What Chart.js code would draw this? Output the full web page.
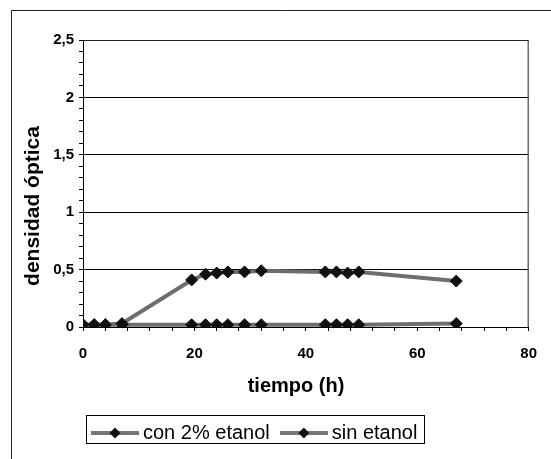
<!DOCTYPE html>
<html>
<head>
<meta charset="utf-8">
<script src="https://cdn.jsdelivr.net/npm/chart.js@4/dist/chart.umd.min.js"></script>
<style>body{margin:0;background:#fff}</style>
</head>
<body>
<canvas id="myChart" width="551" height="459"></canvas>
<script>
// datos
var tiempo = [0, 2, 4, 7, 19.5, 22, 24, 26, 29, 32, 43.5, 45.5, 47.5, 49.5, 67];
var con2Etanol = [0.02, 0.02, 0.02, 0.03, 0.41, 0.46, 0.47, 0.48, 0.48, 0.49, 0.48, 0.48, 0.47, 0.48, 0.40];
var sinEtanol = [0.02, 0.02, 0.02, 0.02, 0.02, 0.02, 0.02, 0.02, 0.02, 0.02, 0.02, 0.02, 0.02, 0.02, 0.03];
var seriesNames = ['con 2% etanol', 'sin etanol'];
var yTickValues = [0, 0.5, 1, 1.5, 2, 2.5];
var yTickLabels = ['0', '0,5', '1', '1,5', '2', '2,5'];
var xTickValues = [0, 20, 40, 60, 80];
var xTickLabels = ['0', '20', '40', '60', '80'];

function pts(ys) {
    return tiempo.map(function (t, i) { return {x: t, y: ys[i]}; });
}
function findLabel(v, vals, labels) {
    for (var i = 0; i < vals.length; i++) {
        if (Math.abs(v - vals[i]) < 1e-6) return labels[i];
    }
    return '';
}

// simbolo de la leyenda: linea gris con rombo
var sym = document.createElement('canvas');
sym.width = 48; sym.height = 12;
var sc = sym.getContext('2d');
sc.strokeStyle = '#777'; sc.lineWidth = 4;
sc.beginPath(); sc.moveTo(0, 6); sc.lineTo(48, 6); sc.stroke();
sc.fillStyle = '#111';
sc.beginPath(); sc.moveTo(24, 0.5); sc.lineTo(29.5, 6); sc.lineTo(24, 11.5); sc.lineTo(18.5, 6); sc.closePath(); sc.fill();

var extras = {
    id: 'extras',
    afterLayout: function (chart) {
        var lg = chart.legend;
        lg.left = 81; lg.right = 540;
        lg.top = 407; lg.bottom = lg.top + lg.height;
    },
    afterDraw: function (chart) {
        var c = chart.ctx, a = chart.chartArea;
        c.save();
        c.strokeStyle = '#222'; c.lineWidth = 1;
        // marco exterior
        c.beginPath(); c.moveTo(11.5, 459); c.lineTo(11.5, 10.5); c.lineTo(551, 10.5); c.stroke();
        // borde del area de trazado
        c.beginPath(); c.moveTo(a.left, a.top + 0.5); c.lineTo(a.right - 0.5, a.top + 0.5); c.lineTo(a.right - 0.5, a.bottom); c.stroke();
        // recuadro de la leyenda
        var hb = chart.legend.legendHitBoxes;
        if (hb && hb.length) {
            var l = hb[0].left, r = hb[hb.length - 1].left + hb[hb.length - 1].width;
            c.strokeStyle = '#000';
            c.strokeRect(Math.round(l - 11) + 0.5, 415.5, Math.round(r - l + 18), 28);
        }
        // titulos de ejes
        c.fillStyle = '#000';
        c.font = 'bold 20px "Liberation Sans", Arial, sans-serif';
        c.textAlign = 'center'; c.textBaseline = 'middle';
        c.fillText('tiempo (h)', 296, 386);
        c.translate(33, 206);
        c.rotate(-Math.PI / 2);
        c.font = 'bold 21px "Liberation Sans", Arial, sans-serif';
        c.fillText('densidad óptica', 0, 0);
        c.restore();
    }
};

var ctx = document.getElementById('myChart').getContext('2d');

var myChart = new Chart(ctx, {
    type: 'line',
    data: {
        datasets: [{
            label: seriesNames[0],
            data: pts(con2Etanol),
            borderColor: '#6e6e6e',
            borderWidth: 4,
            pointStyle: 'rectRot',
            pointRadius: 6,
            pointBackgroundColor: '#111',
            pointBorderColor: '#111',
            pointBorderWidth: 1
        }, {
            label: seriesNames[1],
            data: pts(sinEtanol),
            borderColor: '#6e6e6e',
            borderWidth: 4,
            pointStyle: 'rectRot',
            pointRadius: 6,
            pointBackgroundColor: '#111',
            pointBorderColor: '#111',
            pointBorderWidth: 1
        }]
    },
    options: {
        responsive: false,
        animation: false,
        devicePixelRatio: 1,
        layout: {padding: {left: 0, top: 40, right: 19, bottom: 0}},
        plugins: {
            title: {display: false},
            tooltip: {enabled: false},
            legend: {
                position: 'bottom',
                align: 'start',
                labels: {
                    usePointStyle: true,
                    pointStyleWidth: 36,
                    padding: 16,
                    color: '#000',
                    font: {family: '"Liberation Sans", Arial, sans-serif', size: 20},
                    generateLabels: function (chart) {
                        return chart.data.datasets.map(function (ds, i) {
                            return {text: ds.label, pointStyle: sym, datasetIndex: i, fontColor: '#000', lineWidth: 0, strokeStyle: 'transparent', fillStyle: 'transparent'};
                        });
                    }
                }
            }
        },
        scales: {
            x: {
                type: 'linear',
                min: 0, max: 80,
                afterFit: function (s) { s.height = 459 - 327 - s.chart.legend.height; },
                border: {color: '#000', width: 1},
                grid: {
                    drawOnChartArea: false,
                    tickLength: 4,
                    tickColor: '#000'
                },
                ticks: {
                    stepSize: 4,
                    autoSkip: false,
                    maxRotation: 0,
                    padding: 14,
                    color: '#000',
                    font: {family: '"Liberation Sans", Arial, sans-serif', size: 15, weight: 'bold'},
                    callback: function (v) { return findLabel(v, xTickValues, xTickLabels); }
                }
            },
            y: {
                min: 0, max: 2.5,
                afterFit: function (s) { s.width = 83; },
                border: {color: '#000', width: 1},
                grid: {
                    color: function (c) {
                        var v = c.tick ? c.tick.value : 0;
                        return findLabel(v, yTickValues, yTickLabels) !== '' && v > 0 ? '#000' : 'rgba(0,0,0,0)';
                    },
                    tickLength: 4,
                    tickColor: '#000'
                },
                ticks: {
                    stepSize: 0.1,
                    autoSkip: false,
                    padding: 5,
                    color: '#000',
                    font: {family: '"Liberation Sans", Arial, sans-serif', size: 15, weight: 'bold'},
                    callback: function (v) { return findLabel(v, yTickValues, yTickLabels); }
                }
            }
        }
    },
    plugins: [extras]
});
</script>
</body>
</html>
